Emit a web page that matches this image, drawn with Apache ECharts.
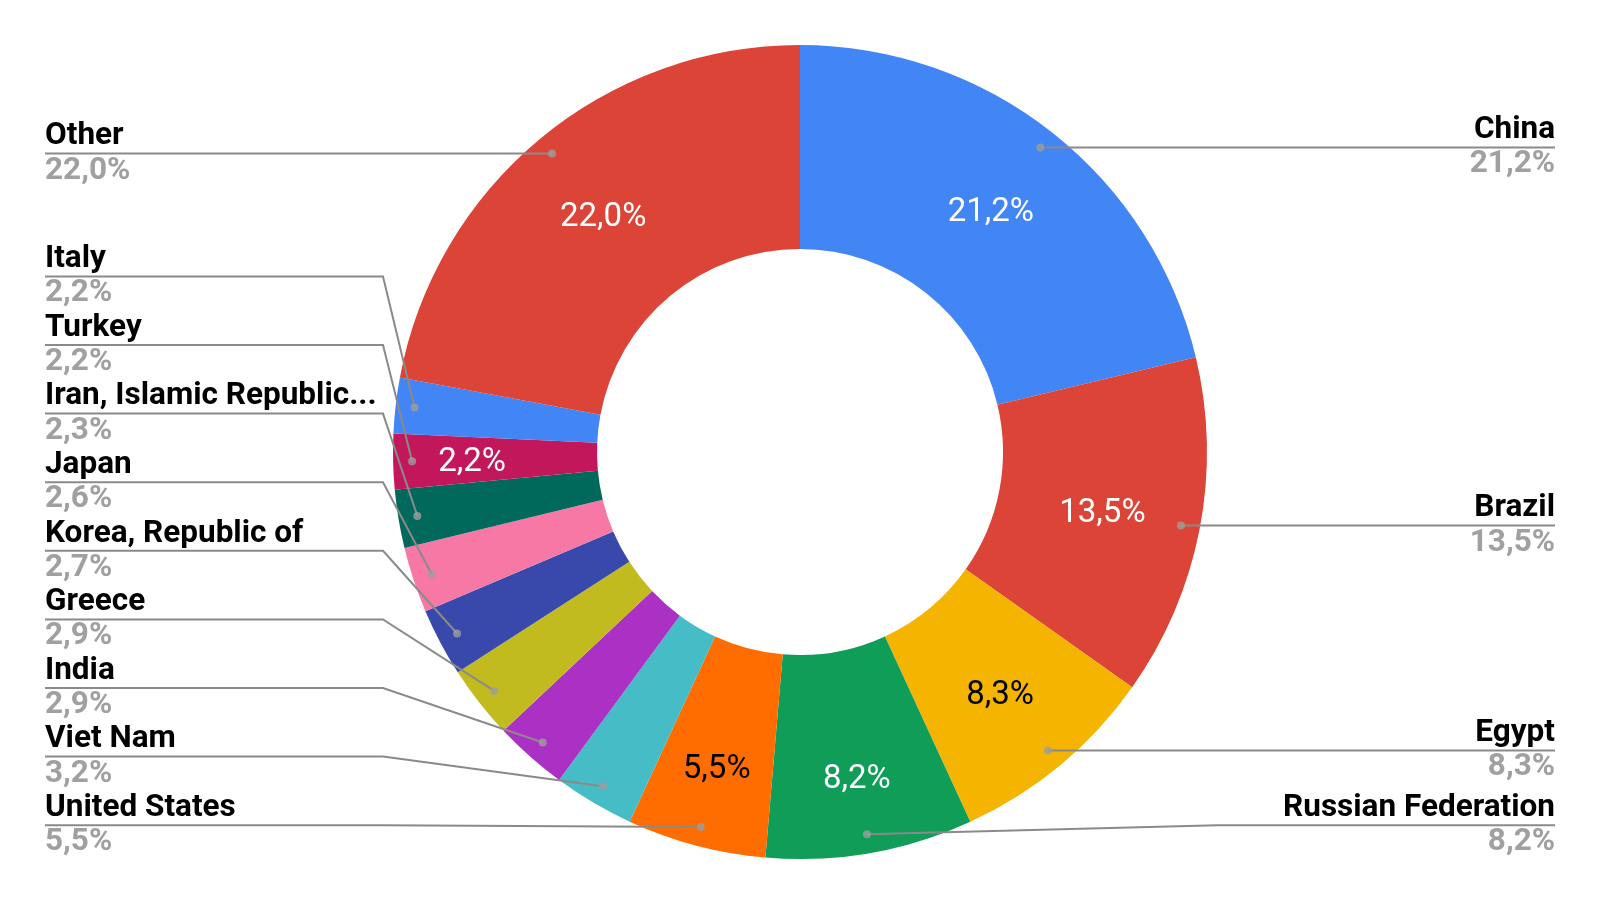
<!DOCTYPE html>
<html><head><meta charset="utf-8">
<script src="https://cdn.jsdelivr.net/npm/echarts@6/dist/echarts.min.js"></script>
<style>html,body{margin:0;padding:0;background:#fff}#c{width:1600px;height:905px}</style>
</head><body><div id="c"></div>
<script>
// ---- data ----
const countries = ['China', 'Brazil', 'Egypt', 'Russian Federation', 'United States', 'Viet Nam', 'India', 'Greece', 'Korea, Republic of', 'Japan', 'Iran, Islamic Republic...', 'Turkey', 'Italy', 'Other'];
const shares = [21.2, 13.5, 8.3, 8.2, 5.5, 3.2, 2.9, 2.9, 2.7, 2.6, 2.3, 2.2, 2.2, 22.0];

// ---- styles ----
const sliceColors = ['#4285F4', '#DB4437', '#F4B400', '#0F9D58', '#FF6D00', '#46BDC6', '#AB30C4', '#C2BB20', '#3949AB', '#F778A4', '#00695C', '#C2185B', '#4285F4', '#DB4437'];
const insideLabelColors = ['#fff', '#fff', '#000', '#fff', '#000', '#fff', '#fff', '#fff', '#fff', '#fff', '#fff', '#fff', '#fff', '#fff'];
const insideLabelShown = [true, true, true, true, true, false, false, false, false, false, false, true, false, true];
const insideLabelPushOut = [0, 0, 5, 22, 18, 0, 0, 0, 0, 0, 0, 20, 0, 0];

// ---- layout ----
const CX = 800, CY = 452, R_IN = 203, R_OUT = 407, DOT_R = 388;
const LABEL_H = 68.6, LABEL_BOTTOM = 859.5;
const fmt = v => v.toFixed(1).replace('.', ',') + '%';
const total = shares.reduce((a, b) => a + b, 0);

// angular mid-points of the slices (in value units)
let acc = 0;
const mids = shares.map(v => { const m = acc + v / 2; acc += v; return m; });
const anchors = mids.map((m, i) => {
  const a = m / total * 2 * Math.PI;
  return { i, x: CX + DOT_R * Math.sin(a), y: CY - DOT_R * Math.cos(a) };
});
// outside label vertical stacking per side (each label at its anchor, pushed to avoid overlap)
const labelY = new Array(shares.length);
[true, false].forEach(left => {
  const list = anchors.filter(p => left ? p.x < CX : p.x >= CX).sort((a, b) => a.y - b.y);
  const ys = list.map(p => p.y);
  for (let k = 1; k < ys.length; k++) ys[k] = Math.max(ys[k], ys[k - 1] + LABEL_H);
  const L = ys.length - 1;
  ys[L] = Math.min(ys[L], LABEL_BOTTOM - LABEL_H / 2);
  for (let k = L - 1; k >= 0; k--) ys[k] = Math.min(ys[k], ys[k + 1] - LABEL_H);
  list.forEach((p, k) => { labelY[p.i] = ys[k]; });
});

const chart = echarts.init(document.getElementById('c'), null, { renderer: 'canvas' });

const innerData = countries.map((n, i) => ({
  name: n, value: shares[i],
  itemStyle: { color: sliceColors[i] },
  label: { show: insideLabelShown[i], color: insideLabelColors[i] }
}));
const outerData = countries.map((n, i) => ({ name: n, value: shares[i] }));
const dotData = mids.map(m => [DOT_R / R_OUT, m]);

const box = { left: 0, right: 0, top: 0, bottom: 45 };

chart.setOption({
  animation: false,
  backgroundColor: '#fff',
  textStyle: { fontFamily: 'Roboto' },
  polar: { center: [CX, CY], radius: R_OUT },
  angleAxis: { type: 'value', min: 0, max: total, startAngle: 90, clockwise: true, show: false },
  radiusAxis: { type: 'value', min: 0, max: 1, show: false },
  series: [
    {
      type: 'pie', ...box,
      center: [CX, CY], radius: [R_IN, R_OUT],
      startAngle: 90, clockwise: true,
      silent: true, z: 2,
      data: innerData,
      label: {
        position: 'inside', fontFamily: 'Roboto', fontSize: 33,
        formatter: p => fmt(p.value)
      },
      labelLine: { show: false },
      labelLayout: function (params) {
        const r = params.labelRect;
        const lx = r.x + r.width / 2, ly = r.y + r.height / 2;
        const d = Math.hypot(lx - CX, ly - CY) || 1;
        const s = insideLabelPushOut[params.dataIndex] || 0;
        return { dx: (lx - CX) / d * s, dy: (ly - CY) / d * s + 3 };
      }
    },
    {
      type: 'pie', ...box,
      center: [CX, CY], radius: [R_IN, R_OUT],
      startAngle: 90, clockwise: true,
      silent: true, z: 3,
      avoidLabelOverlap: true,
      itemStyle: { color: 'rgba(0,0,0,0)' },
      data: outerData,
      label: {
        show: true,
        position: 'outside',
        alignTo: 'edge',
        edgeDistance: 45,
        bleedMargin: 0,
        minMargin: 0,
        distanceToLabelLine: 0,
        formatter: p => '{n|' + p.name + '}\n{v|' + fmt(p.value) + '}',
        rich: {
          n: { fontFamily: 'Roboto', fontWeight: 'bold', fontSize: 31.5, lineHeight: 34.3, color: '#000' },
          v: { fontFamily: 'Roboto', fontWeight: 'bold', fontSize: 31.5, lineHeight: 34.3, color: '#A0A0A0' }
        }
      },
      labelLine: {
        show: true, length: DOT_R - R_OUT, length2: 0,
        minTurnAngle: 0, maxSurfaceAngle: 180,
        lineStyle: { color: '#8A8A8A', width: 2 }
      },
      labelLayout: function (params) {
        const i = params.dataIndex;
        const r = params.labelRect;
        const isLeft = r.x + r.width / 2 < CX;
        const ty = labelY[i];
        const dy = ty - (r.y + r.height / 2);
        const bendX = isLeft ? CX - R_OUT - 10 : CX + R_OUT + 10;
        const endX = isLeft ? r.x : r.x + r.width;
        return {
          dy: dy,
          labelLinePoints: [[anchors[i].x, anchors[i].y], [bendX, ty], [endX, ty]]
        };
      }
    },
    {
      type: 'scatter', coordinateSystem: 'polar', z: 10, silent: true,
      symbol: 'circle', symbolSize: 8,
      itemStyle: { color: '#9E9E9E' },
      data: dotData
    }
  ]
});
</script>
</body></html>
